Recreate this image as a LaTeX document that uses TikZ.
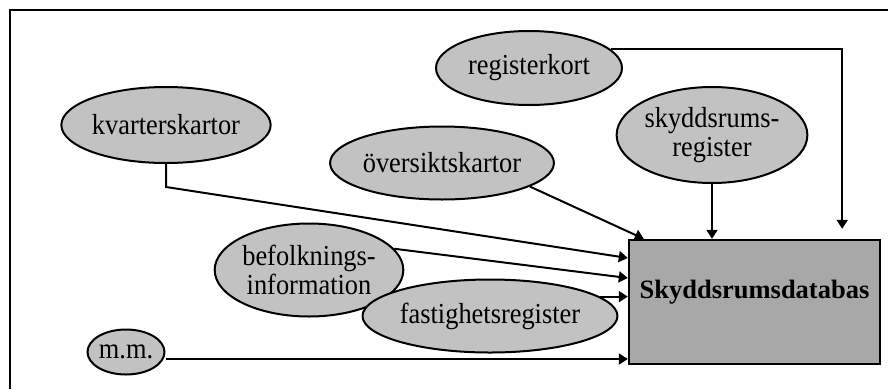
\documentclass[tikz,border=0pt]{standalone}
\usepackage{fontspec}
\setmainfont{Liberation Serif}
\newfontfamily\srcfont[FakeStretch=0.91]{Liberation Serif}
\usetikzlibrary{shapes.geometric,arrows.meta}
\begin{document}
\begin{tikzpicture}[x=1pt,y=-1pt,
  src/.style={ellipse,draw=black,line width=2pt,fill=gray!48,inner sep=0pt,
    align=center,font=\srcfont\fontsize{29}{29}\selectfont},
  dbbox/.style={rectangle,draw=black,line width=2.4pt,fill=gray!68,inner sep=0pt,
    font=\fontsize{26.5}{28}\selectfont\bfseries},
  arr/.style={line width=2pt,-{Triangle[length=9pt,width=11pt]}},
  frame/.style={line width=2.2pt}]
\useasboundingbox (0,0) rectangle (888,389);
\coordinate (ftr) at (888,10);
\coordinate (ftl) at (10,10);
\coordinate (fbl) at (10,389);
\draw[frame] (ftr) -- (ftl) -- (fbl);

\node[dbbox,minimum width=251pt,minimum height=124pt] (db) at (754.5,302) {\raisebox{4pt}[0pt][0pt]{Skyddsrumsdatabas}};

\node[src,minimum width=186pt,minimum height=74pt] (rk) at (529,68) {registerkort};
\node[src,minimum width=169pt,minimum height=96pt] (sk) at (712,135) {skyddsrums-\\register};
\node[src,minimum width=207pt,minimum height=73pt] (ov) at (442,163) {översiktskartor};
\node[src,minimum width=195pt,minimum height=76pt] (kv) at (166,125) {kvarterskartor};
\node[src,minimum width=168pt,minimum height=93pt] (bf) at (309,270) {befolknings-\\information};
\node[src,minimum width=223pt,minimum height=73pt] (fa) at (490,316) {fastighetsregister};
\node[src,minimum width=77pt,minimum height=45pt] (mm) at (126,352) {m.m.};

\draw[arr] (rk.13) -| ([xshift=-39pt,yshift=10pt]db.north east);
\draw[arr] (sk.south) -- (sk.south |- db.north);
\draw[arr] (ov.-15) -- ([xshift=16pt]db.north west);
\draw[arr] (kv.south) -- ++(0,23) -- ([yshift=44pt]db.west);
\draw[arr] (bf.14) -- ([yshift=24pt]db.west);
\draw[arr] (fa.10) -- (fa.10 -| db.west);
\draw[arr] ([yshift=-7pt]mm.east) -- ([yshift=-7pt]mm.east -| db.west);
\end{tikzpicture}
\end{document}
